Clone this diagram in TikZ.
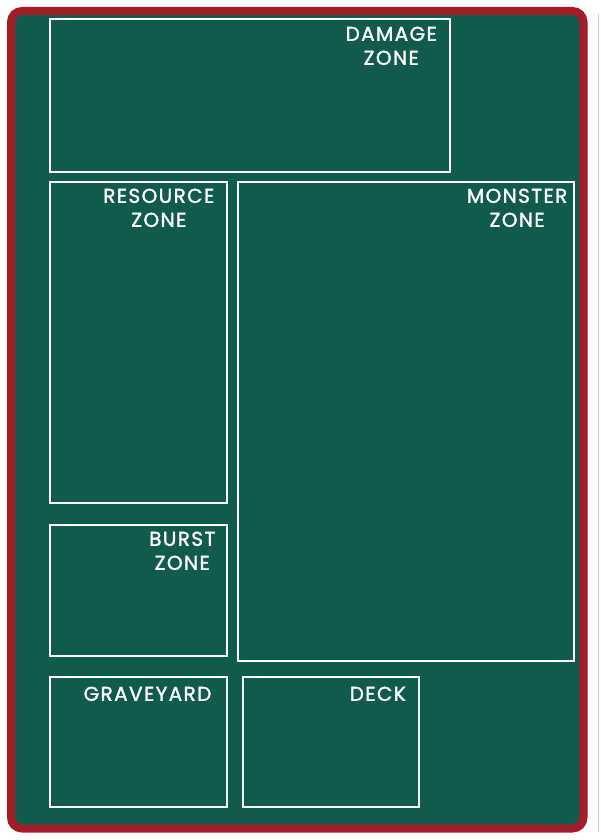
\documentclass[tikz,border=0pt]{standalone}
\usepackage{fontspec}
\setmainfont{Poppins}[FakeBold=1.6, LetterSpace=7]
\usetikzlibrary{positioning}

\definecolor{matgreen}{RGB}{17,91,78}
\definecolor{matred}{RGB}{163,28,39}
\definecolor{edgepink}{RGB}{226,190,196}

\tikzset{
    zone/.style={draw=white, line width=2pt, anchor=north west, inner sep=0pt},
    zonelabel/.style={text=white, align=center, inner sep=0pt,
        font=\fontsize{20pt}{24pt}\selectfont},
}

\begin{document}
\begin{tikzpicture}[x=1pt, y=-1pt]
        \useasboundingbox (0,0) rectangle (600,840);

        % play mat
        \draw[matred, fill=matgreen, line width=8pt, rounded corners=11pt] (11,11) rectangle (583.5,828.5);
        \draw[edgepink, line width=0.8pt] (598.5,14) -- (598.5,832);

        \node[zone, minimum width=400.5pt, minimum height=152pt] (damage) at (48.5,18.5) {};
        \node[zone, minimum width=177pt, minimum height=321pt] (resource) at (48.5,180.5) {};
        \node[zone, minimum width=336pt, minimum height=479pt] (monster) at (236.5,180.5) {};
        \node[zone, minimum width=177pt, minimum height=131pt] (burst) at (48.5,523.5) {};
        \node[zone, minimum width=177pt, minimum height=130.5pt] (graveyard) at (48.5,675.5) {};
        \node[zone, minimum width=176.5pt, minimum height=130.5pt] (deck) at (241.5,675.5) {};

        \node[zonelabel, below left=8pt and 14pt of damage.north east] (damagetext) {DAMAGE\\ZONE};
        \node[zonelabel, below left=8pt and 13pt of resource.north east] (resourcetext) {RESOURCE\\ZONE};
        \node[zonelabel, below left=8pt and 7pt of monster.north east] (monstertext) {MONSTER\\ZONE};
        \node[zonelabel, below left=8pt and 12pt of burst.north east] (bursttext) {BURST\\ZONE};
        \node[zonelabel, below left=11pt and 16pt of graveyard.north east] (graveyardtext) {GRAVEYARD};
        \node[zonelabel, below left=11pt and 14pt of deck.north east] (decktext) {DECK};
\end{tikzpicture}
\end{document}
